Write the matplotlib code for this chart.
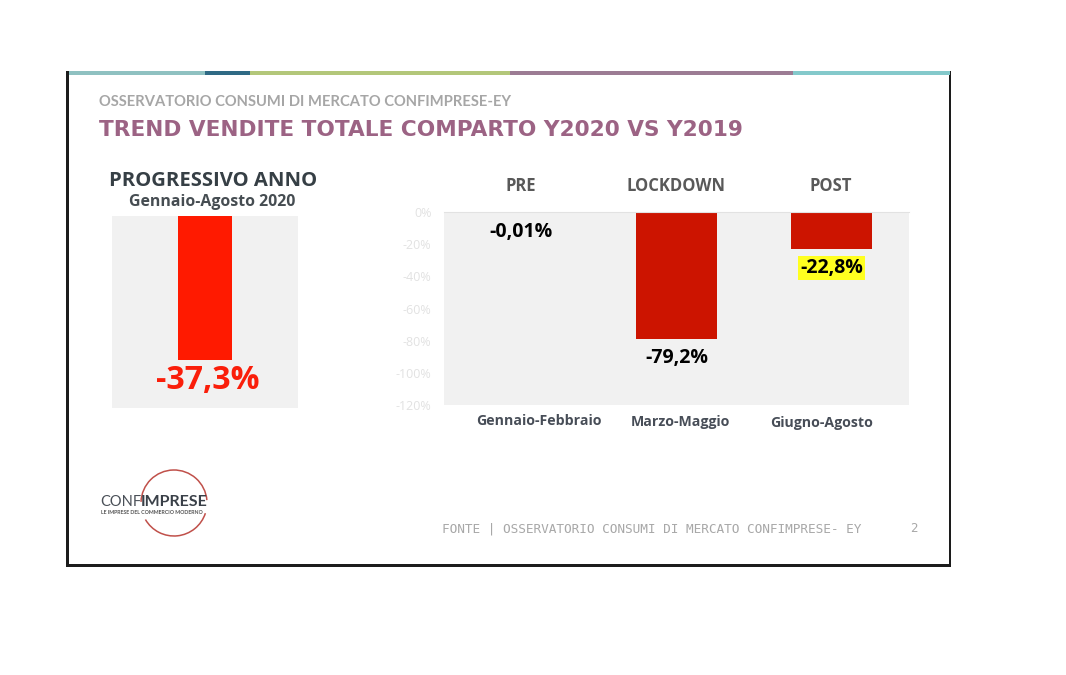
import numpy as np
import matplotlib
matplotlib.use("Agg")
import matplotlib.pyplot as plt
from matplotlib.patches import Arc, Rectangle

W, H = 1066, 675

# Data
periods = ['PRE', 'LOCKDOWN', 'POST']
months = ['Gennaio-Febbraio', 'Marzo-Maggio', 'Giugno-Agosto']
trend = [-0.01, -79.2, -22.8]
trend_labels = ['-0,01%', '-79,2%', '-22,8%']
y_ticks = [0, -20, -40, -60, -80, -100, -120]
y_tick_labels = ['0%', '-20%', '-40%', '-60%', '-80%', '-100%', '-120%']
ytd = [-37.3]
ytd_label = '-37,3%'

strip_edges = [69, 205, 250, 510, 793, 950]
strip_colors = ['#8fc1c1', '#2f6a85', '#b3c77a', '#9c7c94', '#84c9cb']


def px_axes(x0, y0, x1, y1):
    return fig.add_axes([x0 / W, 1 - y1 / H, (x1 - x0) / W, (y1 - y0) / H])


fig = plt.figure(figsize=(W / 100, H / 100), dpi=100, facecolor='white')

# Page overlay in pixel coordinates
bg = fig.add_axes([0, 0, 1, 1], zorder=0)
bg.set_xlim(0, W)
bg.set_ylim(H, 0)
bg.axis('off')

# Slide frame
bg.add_patch(Rectangle((66, 71), 3, 496, color='#1c1c1c', lw=0))
bg.add_patch(Rectangle((66, 564), 885, 3, color='#1c1c1c', lw=0))
bg.add_patch(Rectangle((949, 71), 2, 496, color='#1c1c1c', lw=0))
for i, c in enumerate(strip_colors):
    bg.add_patch(Rectangle((strip_edges[i], 71), strip_edges[i + 1] - strip_edges[i], 3.5, color=c, lw=0))

# Headings
bg.text(99, 102, 'OSSERVATORIO CONSUMI DI MERCATO CONFIMPRESE-EY', family='Lato', fontweight='bold',
        fontsize=10.6, color='#a6a6a6', va='center', ha='left')
bg.text(99, 129.5, 'TREND VENDITE TOTALE COMPARTO Y2020 VS Y2019', family='DejaVu Sans', fontweight='bold',
        fontsize=15.6, color='#9c6384', va='center', ha='left')
bg.text(213.5, 180.5, 'PROGRESSIVO ANNO', family='Open Sans', fontweight='bold', fontsize=14.6,
        color='#363f45', va='center', ha='center')
bg.text(212, 201.5, 'Gennaio-Agosto 2020', family='Open Sans', fontweight='bold', fontsize=11.4,
        color='#464d52', va='center', ha='center')

# Left panel
ax1 = px_axes(112, 216, 298, 408)
ax1.set_facecolor('#f1f1f1')
ax1.bar([0], ytd, width=0.295, color='#ff1a00')
ax1.set_xlim(-0.5, 0.5)
ax1.set_ylim(-49.7, 0)
ax1.set_xticks([])
ax1.set_yticks([])
for s in ax1.spines.values():
    s.set_visible(False)
ax1.text(0.015, ytd[0] - 1, ytd_label, family='Open Sans', fontweight='bold', fontsize=23,
         color='#fa1e0a', ha='center', va='top')

# Right panel
ax2 = px_axes(444, 212, 909, 405)
ax2.set_facecolor('#f1f1f1')
x = np.arange(len(trend))
ax2.bar(x, trend, width=0.52, color='#cc1400')
ax2.set_xlim(-0.5, 2.5)
ax2.set_ylim(-120, 0)
ax2.set_yticks(y_ticks)
ax2.set_yticklabels(y_tick_labels, family='Open Sans', fontsize=9, color='#e2e2e2')
ax2.tick_params(axis='y', length=0, pad=9)
ax2.set_xticks([])
for s in ['left', 'right', 'bottom']:
    ax2.spines[s].set_visible(False)
ax2.spines['top'].set_color('#e2e2e2')

ax2.text(0, -12.5, trend_labels[0], family='Open Sans', fontweight='bold', fontsize=14, color='black',
         ha='center', va='center')
ax2.text(1, -90.5, trend_labels[1], family='Open Sans', fontweight='bold', fontsize=14, color='black',
         ha='center', va='center')
ax2.text(2, -35, trend_labels[2], family='Open Sans', fontweight='bold', fontsize=14, color='black',
         ha='center', va='center',
         bbox=dict(facecolor='#ffff20', edgecolor='none', pad=1.5))

# Column headers and period labels
for cx, p in zip([521, 676, 831], periods):
    bg.text(cx, 186, p, family='Open Sans', fontweight='bold', fontsize=12, color='#595959',
            ha='center', va='center')
for cx, cy, m in zip([539, 680, 822], [421, 422, 423], months):
    bg.text(cx, cy, m, family='Open Sans', fontweight='bold', fontsize=10.2, color='#474d57',
            ha='center', va='center')

# Footer
bg.text(442, 529, 'FONTE | OSSERVATORIO CONSUMI DI MERCATO CONFIMPRESE- EY', family='DejaVu Sans Mono',
        fontsize=9.15, color='#a8a8a8', va='center', ha='left')
bg.text(914, 529, '2', family='DejaVu Sans Mono', fontsize=9, color='#a8a8a8', va='center', ha='center')

# Logo
bg.add_patch(Arc((174, 503), 66, 66, theta1=182, theta2=355, color='#c0504a', lw=1.1))
bg.add_patch(Arc((174, 503), 66, 66, theta1=18, theta2=150, color='#c0504a', lw=1.1))
bg.text(100, 502, 'CONF', family='Lato', fontsize=10.5, color='#4a5058', va='center', ha='left')
bg.text(141, 502, 'IMPRESE', family='Lato', fontweight='bold', fontsize=11.5, color='#3a4048', va='center', ha='left')
bg.text(152, 512, 'LE IMPRESE DEL COMMERCIO MODERNO', family='Lato', fontweight='bold', fontsize=3.8,
        color='#555555', va='center', ha='center')

fig.savefig('out.png', dpi=100)
